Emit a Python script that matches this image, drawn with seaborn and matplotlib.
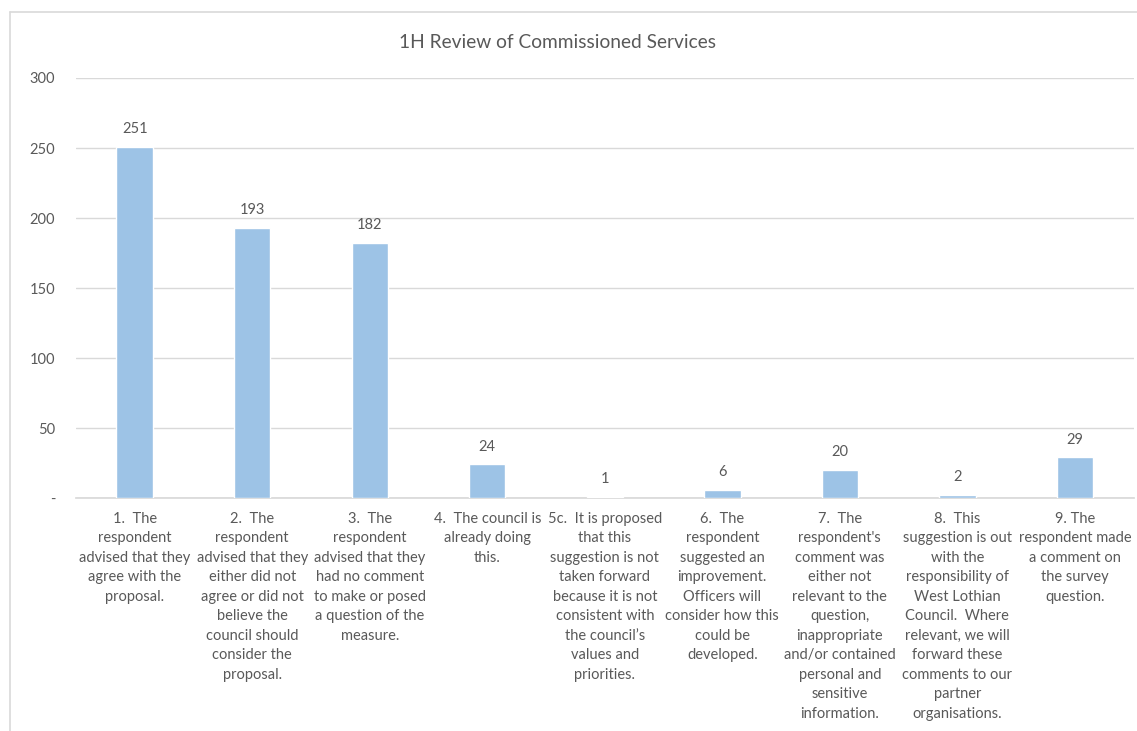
import matplotlib
matplotlib.use("Agg")
import matplotlib.pyplot as plt
import seaborn as sns
import pandas as pd
from matplotlib.lines import Line2D

categories = [
    "1.  The\nrespondent\nadvised that they\nagree with the\nproposal.",
    "2.  The\nrespondent\nadvised that they\neither did not\nagree or did not\nbelieve the\ncouncil should\nconsider the\nproposal.",
    "3.  The\nrespondent\nadvised that they\nhad no comment\nto make or posed\na question of the\nmeasure.",
    "4.  The council is\nalready doing\nthis.",
    "5c.  It is proposed\nthat this\nsuggestion is not\ntaken forward\nbecause it is not\nconsistent with\nthe council\u2019s\nvalues and\npriorities.",
    "6.  The\nrespondent\nsuggested an\nimprovement.\nOfficers will\nconsider how this\ncould be\ndeveloped.",
    "7.  The\nrespondent's\ncomment was\neither not\nrelevant to the\nquestion,\ninappropriate\nand/or contained\npersonal and\nsensitive\ninformation.",
    "8.  This\nsuggestion is out\nwith the\nresponsibility of\nWest Lothian\nCouncil.  Where\nrelevant, we will\nforward these\ncomments to our\npartner\norganisations.",
    "9. The\nrespondent made\na comment on\nthe survey\nquestion.",
]
values = [251, 193, 182, 24, 1, 6, 20, 2, 29]
y_ticks = [0, 50, 100, 150, 200, 250, 300]
y_tick_labels = ["-", "50", "100", "150", "200", "250", "300"]
title = "1H Review of Commissioned Services"

TEXT = "#595959"
BAR = "#9DC3E6"
GRID = "#D9D9D9"

sns.set_theme(style="white")
plt.rcParams["font.family"] = ["Lato", "DejaVu Sans"]

fig = plt.figure(figsize=(11.37, 7.31), dpi=100)
ax = fig.add_axes([0.0668, 0.3187, 0.9302, 0.5746])

df = pd.DataFrame({"cat": range(len(values)), "val": values})
sns.barplot(data=df, x="cat", y="val", color=BAR, width=0.31,
            saturation=1, ax=ax, zorder=3)

ax.set_ylim(0, 300)
ax.set_xlim(-0.5, len(values) - 0.5)
ax.set_yticks(y_ticks)
ax.set_yticklabels(y_tick_labels, color=TEXT, fontsize=10.5)
ax.yaxis.grid(True, color=GRID, linewidth=1, zorder=0)
ax.set_axisbelow(True)
for s in ["top", "right", "left"]:
    ax.spines[s].set_visible(False)
ax.spines["bottom"].set_color(GRID)
ax.tick_params(axis="y", length=0, pad=15)
ax.tick_params(axis="x", length=0, pad=10)
ax.set_xticks(range(len(categories)))
ax.set_xticklabels(categories, color=TEXT, fontsize=10.5,
                   linespacing=1.5, va="top", ha="center")
ax.set_xlabel("")
ax.set_ylabel("")

for i, v in enumerate(values):
    ax.annotate(str(v), (i, v), xytext=(0, 7.8), textcoords="offset points",
                ha="center", va="bottom", color=TEXT, fontsize=10.5)

fig.text(0.49, 1 - 42 / 731, title, ha="center", va="center",
         color=TEXT, fontsize=13.8)

# outer chart frame
fx = 10 / 1137
fy = 1 - 12 / 731
fig.add_artist(Line2D([fx, fx], [0, fy], transform=fig.transFigure,
                      color=GRID, linewidth=1.2))
fig.add_artist(Line2D([fx, 1], [fy, fy], transform=fig.transFigure,
                      color=GRID, linewidth=1.2))

fig.savefig("out.png", dpi=100)
